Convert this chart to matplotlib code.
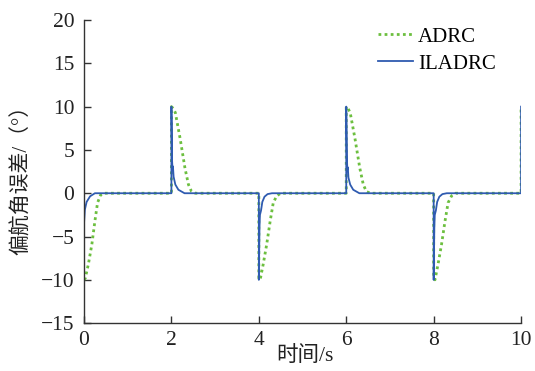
import matplotlib.pyplot as plt

plt.rcParams['font.family'] = ['Liberation Serif', 'Noto Sans CJK SC']
plt.rcParams['axes.unicode_minus'] = True

# yaw error response, ADRC
adrc_t = [0.00, 0.03, 0.10, 0.18, 0.25, 0.31, 0.38, 0.45,
          2.00, 2.00, 2.04, 2.09, 2.20, 2.31, 2.39, 2.46, 2.55,
          4.00, 4.00, 4.03, 4.10, 4.18, 4.26, 4.33, 4.41, 4.50,
          6.00, 6.00, 6.04, 6.09, 6.20, 6.31, 6.39, 6.46, 6.55,
          8.00, 8.00, 8.03, 8.10, 8.18, 8.26, 8.33, 8.41, 8.50,
          10.00, 10.00]
adrc_err = [-10.0, -9.8, -8.2, -5.9, -3.2, -1.1, -0.2, 0.0,
            0.0, 10.0, 9.8, 9.3, 6.3, 2.9, 1.0, 0.2, 0.0,
            0.0, -9.8, -10.0, -8.2, -5.9, -3.2, -1.1, -0.3, 0.0,
            0.0, 10.0, 9.8, 9.3, 6.3, 2.9, 1.0, 0.2, 0.0,
            0.0, -9.8, -10.0, -8.2, -5.9, -3.2, -1.1, -0.3, 0.0,
            0.0, 10.0]

# yaw error response, ILADRC
iladrc_t = [0.00, 0.02, 0.06, 0.14, 0.25,
            2.00, 2.00, 2.015, 2.025, 2.035, 2.05, 2.09, 2.16, 2.30,
            4.00, 4.00, 4.015, 4.025, 4.05, 4.08, 4.13, 4.20, 4.30,
            6.00, 6.00, 6.015, 6.025, 6.035, 6.05, 6.09, 6.16, 6.30,
            8.00, 8.00, 8.015, 8.025, 8.05, 8.08, 8.13, 8.20, 8.30,
            10.00, 10.00]
iladrc_err = [-3.5, -1.9, -1.0, -0.35, 0.0,
              0.0, 10.0, 3.8, 2.8, 3.1, 1.9, 1.0, 0.4, 0.0,
              0.0, -10.0, -4.0, -2.5, -2.0, -1.0, -0.4, -0.1, 0.0,
              0.0, 10.0, 4.1, 2.7, 3.0, 1.8, 1.0, 0.4, 0.0,
              0.0, -10.0, -4.0, -2.5, -2.0, -1.0, -0.4, -0.1, 0.0,
              0.0, 10.0]

fig = plt.figure(figsize=(5.35, 3.71), dpi=100)
ax = fig.add_axes([0.157, 0.129, 0.817, 0.817])

ax.plot(adrc_t, adrc_err, color='#6cbf3f', linestyle=(0, (1, 1.2)), linewidth=2.0, label='ADRC')
ax.plot(iladrc_t, iladrc_err, color='#2f5bb0', linewidth=1.3, label='ILADRC')

ax.set_xlim(0, 10)
ax.set_ylim(-15, 20)
ax.set_xticks([0, 2, 4, 6, 8, 10])
ax.set_yticks([-15, -10, -5, 0, 5, 10, 15, 20])

ax.spines['top'].set_visible(False)
ax.spines['right'].set_visible(False)
for s in ['left', 'bottom']:
    ax.spines[s].set_color('#333333')
    ax.spines[s].set_linewidth(1.0)
ax.tick_params(direction='in', length=5, width=1.0, colors='#333333',
               labelcolor='#222222', labelsize=15.5)
ax.tick_params(axis='y', pad=7)
ax.tick_params(axis='x', pad=5.5)

ax.set_xlabel('时间/s', fontsize=15.5, color='#222222')
ax.set_ylabel('偏航角误差/（°）', fontsize=15, color='#222222')
ax.xaxis.set_label_coords(0.506, -0.075)
ax.yaxis.set_label_coords(-0.119, 0.488)

ax.legend(loc='upper left', frameon=False, fontsize=15, handlelength=1.68,
          handletextpad=0.25, labelspacing=0.36, borderpad=0, borderaxespad=0,
          bbox_to_anchor=(378 / 535, 1 - 27 / 371), bbox_transform=fig.transFigure)

fig.savefig('out.png', dpi=100)
